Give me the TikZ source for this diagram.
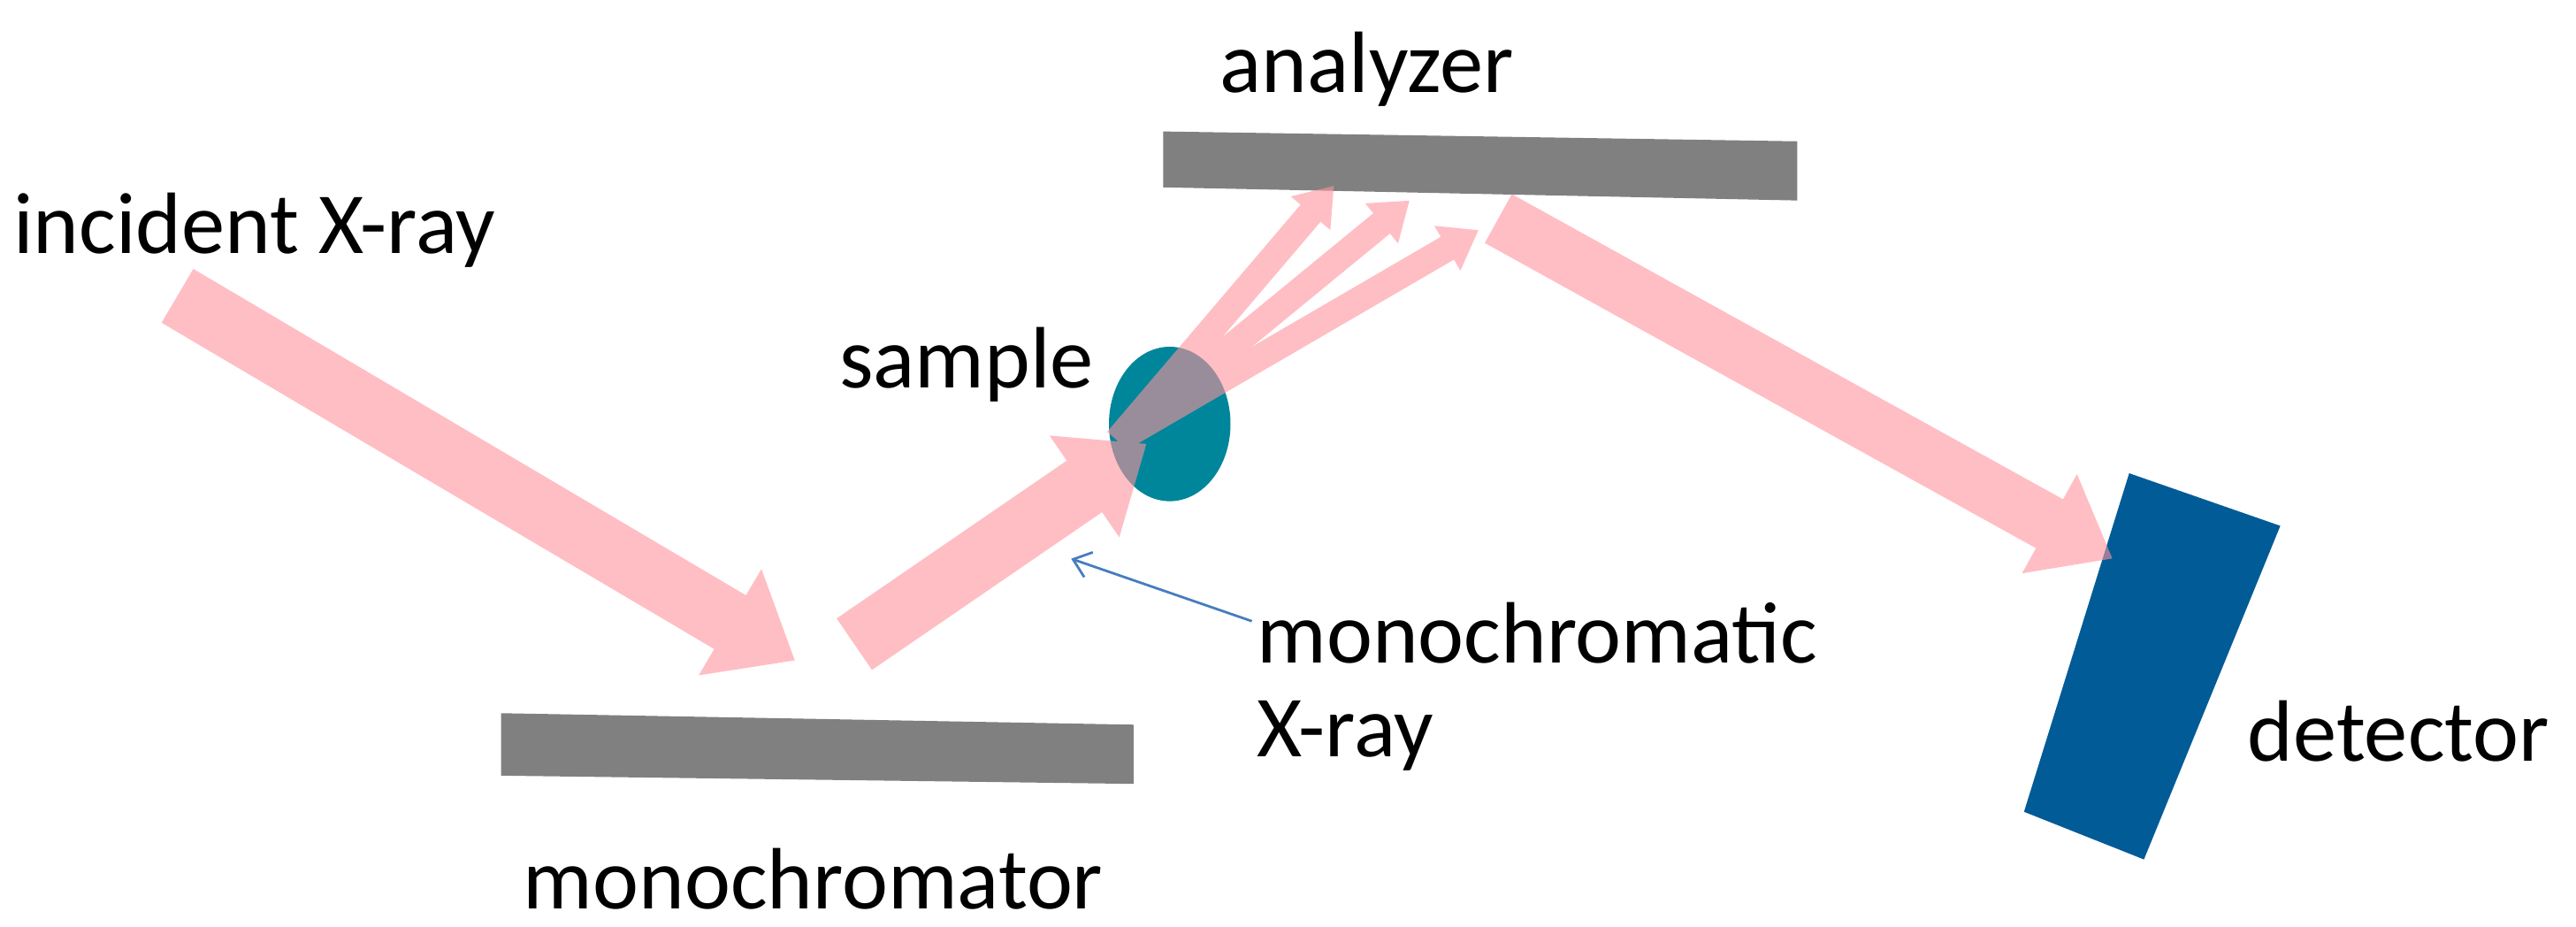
\documentclass[tikz,border=0pt]{standalone}
\usepackage{fontspec}
\setmainfont{Carlito}
\usetikzlibrary{arrows.meta,shapes.geometric}
\definecolor{beam}{RGB}{255,147,157}
\definecolor{plate}{RGB}{128,128,128}
\definecolor{samp}{RGB}{0,134,154}
\definecolor{det}{RGB}{0,91,150}
\definecolor{pointer}{RGB}{70,125,190}
\tikzset{
 lbl/.style={font=\fontsize{53}{60}\selectfont, inner sep=0pt},
 wide/.style={beam, line width=38pt, -{Triangle[width=72pt,length=46pt]}},
 narrow/.style={beam, line width=16pt, -{Triangle[width=30pt,length=22pt]}},
}
\begin{document}
\begin{tikzpicture}[x=1pt,y=-1pt]
\useasboundingbox (0,0) rectangle (1568,564);
\fill[plate] (305,434) -- (690,441) -- (690,477) -- (305,472) -- cycle;
\fill[plate] (708,80) -- (1094,86) -- (1094,122) -- (708,114) -- cycle;
\fill[det] (1296,288) -- (1388,320) -- (1305,523) -- (1232,494) -- cycle;
\node[ellipse, fill=samp, minimum width=74pt, minimum height=94pt, inner sep=0pt] (sample) at (712,258) {};
\coordinate (a1) at (108,180);
\coordinate (a2) at (484,402);
\coordinate (b1) at (520,392);
\coordinate (b2) at (698,270);
\coordinate (s0) at (680,268);
\coordinate (c1) at (812,113);
\coordinate (c2) at (858,122);
\coordinate (c3) at (900,140);
\coordinate (d1) at (912,133);
\coordinate (d2) at (1286,340);
\begin{scope}[transparency group, opacity=0.6]
\draw[wide] (a1) -- (a2);
\draw[wide] (b1) -- (b2);
\draw[narrow] (s0) -- (c1);
\draw[narrow] (s0) -- (c2);
\draw[narrow] (s0) -- (c3);
\draw[line width=34pt, beam, -{Triangle[width=66pt,length=44pt]}] (d1) -- (d2);
\end{scope}
\coordinate (t1) at (762,378);
\coordinate (t2) at (652,340);
\draw[pointer, line width=1.5pt, -{Straight Barb[length=10pt,width=16pt]}] (t1) -- (t2);
\node[lbl, anchor=west] (l1) at (8,140) {incident X-ray};
\node[lbl] (l2) at (832,42) {analyzer};
\node[lbl, anchor=east] (l3) at (666,222) {sample};
\node[lbl, anchor=west] (l4) at (765,385) {monochromatic};
\node[lbl, anchor=west] (l5) at (765,448) {X-ray};
\node[lbl, anchor=west] (l6) at (1368,445) {detector};
\node[lbl] (l7) at (495,535) {monochromator};
\end{tikzpicture}
\end{document}
